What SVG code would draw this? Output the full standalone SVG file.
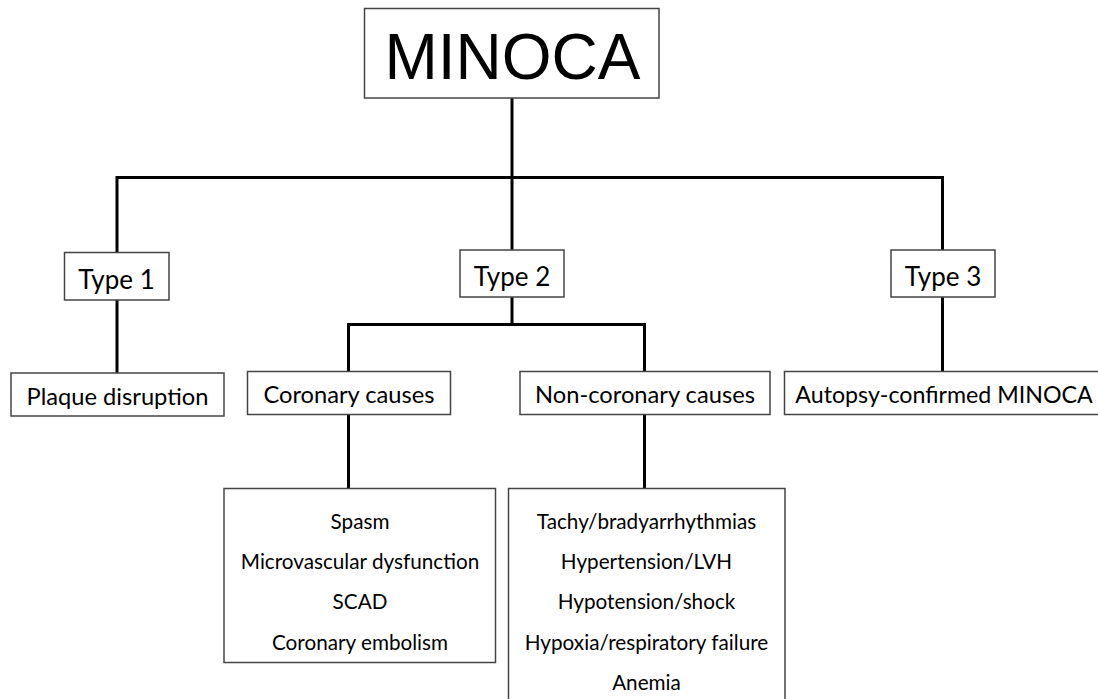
<svg xmlns="http://www.w3.org/2000/svg" width="1098" height="699" viewBox="0 0 1098 699">
<style>
.box{fill:#fff;stroke:#444;stroke-width:1.5}
.conn{fill:none;stroke:#000;stroke-width:3;stroke-linecap:square}
.t{font-family:Lato,"Open Sans","Liberation Sans",sans-serif;fill:#000;text-anchor:middle}
.big{font-family:"Liberation Sans",Arial,sans-serif;font-size:64px;fill:#000;text-anchor:middle}
.l1{font-size:26px}
.l2{font-size:23.7px}
.l3{font-size:20.7px}
</style>
<rect width="1098" height="699" fill="#fff"/>
<g id="connectors">
<path class="conn" d="M512 98 V250"/>
<path class="conn" d="M117 253 V177.5 H942.5 V250"/>
<path class="conn" d="M117 300 V373"/>
<path class="conn" d="M512 297 V324"/>
<path class="conn" d="M348.5 371.5 V324.5 H644.5 V371.5"/>
<path class="conn" d="M942.5 297 V371.5"/>
<path class="conn" d="M348.5 414 V487"/>
<path class="conn" d="M644.5 414 V487"/>
</g>
<g id="minoca">
<rect class="box" x="364.5" y="8.5" width="294.5" height="89.5"/>
<text class="big" x="512.5" y="79">MINOCA</text>
</g>
<g id="type1">
<rect class="box" x="64.5" y="252.5" width="104.5" height="47.5"/>
<text class="t l1" x="116.5" y="288.5">Type 1</text>
</g>
<g id="type2">
<rect class="box" x="460" y="250" width="104" height="47"/>
<text class="t l1" x="512" y="285.5">Type 2</text>
</g>
<g id="type3">
<rect class="box" x="891" y="250" width="104" height="47"/>
<text class="t l1" x="943" y="285.5">Type 3</text>
</g>
<g id="plaque">
<rect class="box" x="11" y="373" width="213" height="43"/>
<text class="t l2" x="117.5" y="405">Plaque disruption</text>
</g>
<g id="coronary">
<rect class="box" x="247.5" y="371.5" width="203" height="43"/>
<text class="t l2" x="349" y="403.3">Coronary causes</text>
</g>
<g id="noncoronary">
<rect class="box" x="520" y="371.5" width="250" height="43"/>
<text class="t l2" x="645" y="403.3">Non-coronary causes</text>
</g>
<g id="autopsy">
<rect class="box" x="784.5" y="371.5" width="315" height="43"/>
<text class="t" style="font-size:23.2px" x="944" y="403.3">Autopsy-confirmed MINOCA</text>
</g>
<g id="coronary-list">
<rect class="box" x="224" y="488.5" width="271.5" height="174"/>
<text class="t l3" x="360" y="529">Spasm</text>
<text class="t l3" x="360" y="569">Microvascular dysfunction</text>
<text class="t l3" x="360" y="609">SCAD</text>
<text class="t l3" x="360" y="650">Coronary embolism</text>
</g>
<g id="noncoronary-list">
<rect class="box" x="508.5" y="488.5" width="276.5" height="220"/>
<text class="t l3" x="646.5" y="529">Tachy/bradyarrhythmias</text>
<text class="t l3" x="646.5" y="569">Hypertension/LVH</text>
<text class="t l3" x="646.5" y="609">Hypotension/shock</text>
<text class="t l3" x="646.5" y="650">Hypoxia/respiratory failure</text>
<text class="t l3" x="646.5" y="689.5">Anemia</text>
</g>
</svg>
